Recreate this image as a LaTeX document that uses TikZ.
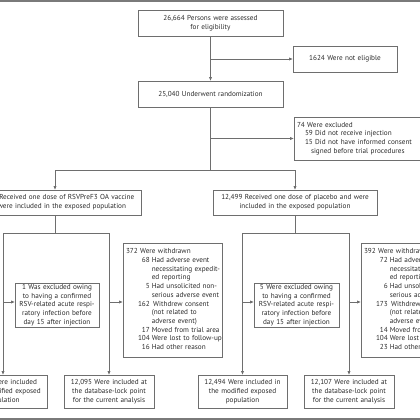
\documentclass[tikz,border=0pt]{standalone}
\usepackage{fontspec}
\setmainfont{PT Sans}
\usetikzlibrary{arrows.meta}
\definecolor{linegray}{HTML}{6E6E6E}
\definecolor{rulegray}{HTML}{7A7A7A}
\definecolor{textcol}{HTML}{2A2A2A}
\newcommand\fnt{\fontsize{7.2}{8.7}\selectfont}
\tikzset{
  box/.style={draw=linegray, line width=0.75pt, inner xsep=2pt, inner ysep=1pt,
    align=center, font=\fnt, text=textcol},
  lbox/.style={box, align=left, inner xsep=3pt},
  conn/.style={draw=linegray, line width=0.75pt},
  arr/.style={conn, -{Triangle[length=3.6pt,width=2.8pt]}},
}
\begin{document}
\begin{tikzpicture}[x=1pt,y=-1pt]
\useasboundingbox (0,0) rectangle (420,420);
\fill[rulegray] (0,0) rectangle (420,1.8);
\fill[rulegray] (0,417.8) rectangle (420,420);

\node[box, text width=141pt, minimum height=26pt] (top) at (210.5,23)
  {26,664 Persons were assessed\\for eligibility};
\node[box, text width=100pt, minimum height=26pt] (notel) at (345,59)
  {1624 Were not eligible};
\node[box, text width=141pt, minimum height=26pt] (rand) at (210.5,94)
  {25,040 Underwent randomization};
\node[lbox, text width=125pt, minimum height=43pt] (excl) at (359.5,138.5)
  {\begin{tabular}{@{}l@{}}74 Were excluded\\[-0.5pt]
   \hspace{8pt}59 Did not receive injection\\
   \hspace{8pt}15 Did not have informed consent\\
   \hspace{14pt}signed before trial procedures\end{tabular}};

\node[box, text width=168pt, minimum height=25pt] (vac) at (55,202.5)
  {12,467 Received one dose of RSVPreF3 OA vaccine\\and were included in the exposed population};
\node[box, text width=160pt, minimum height=25pt] (plac) at (295,202.5)
  {12,499 Received one dose of placebo and were\\included in the exposed population};

\node[box, text width=80pt, minimum height=44pt] (ex1) at (57,305)
  {1 Was excluded owing\\to having a confirmed\\RSV-related acute respi-\\ratory infection before\\day 15 after injection};
\node[box, text width=81pt, minimum height=44pt] (ex2) at (296.5,305)
  {5 Were excluded owing\\to having a confirmed\\RSV-related acute respi-\\ratory infection before\\day 15 after injection};

\node[lbox, text width=93pt, minimum height=114pt] (wd1) at (172.5,300)
  {\begin{tabular}{@{\hspace{12pt}}r@{\hspace{0.28em}}l@{}}
   \multicolumn{2}{@{}l@{}}{372 Were withdrawn}\\
   68 & Had adverse event\\
      & necessitating expedit-\\
      & ed reporting\\
   5 & Had unsolicited non-\\
     & serious adverse event\\
   162 & \hspace{0.2em}Withdrew consent\\
       & (not related to\\
       & adverse event)\\
   17 & Moved from trial area\\
   104 & Were lost to follow-up\\
   16 & Had other reason
   \end{tabular}};
\node[lbox, text width=93pt, minimum height=114pt] (wd2) at (410.5,300)
  {\begin{tabular}{@{\hspace{12pt}}r@{\hspace{0.28em}}l@{}}
   \multicolumn{2}{@{}l@{}}{392 Were withdrawn}\\
   72 & Had adverse event\\
      & necessitating expedit-\\
      & ed reporting\\
   6 & Had unsolicited non-\\
     & serious adverse event\\
   173 & \hspace{0.2em}Withdrew consent\\
       & (not related to\\
       & adverse event)\\
   14 & Moved from trial area\\
   104 & Were lost to follow-up\\
   23 & Had other reason
   \end{tabular}};

\node[box, text width=84pt, minimum height=33pt] (mod1) at (3,391.5)
  {12,466 Were included\\in the modified exposed\\population};
\node[box, text width=86pt, minimum height=33pt] (db1) at (109,391.5)
  {12,095 Were included at\\the database-lock point\\for the current analysis};
\node[box, text width=85pt, minimum height=33pt] (mod2) at (242.5,391.5)
  {12,494 Were included in\\the modified exposed\\population};
\node[box, text width=86pt, minimum height=33pt] (db2) at (349,391.5)
  {12,107 Were included at\\the database-lock point\\for the current analysis};

% top connectors
\draw[arr] (top.south) -- (rand.north);
\coordinate (b1) at (210.5,59);
\draw[arr] (b1) -- (b1 -| notel.west);
\coordinate (sp) at (210.5,170);
\draw[conn] (rand.south) -- (sp);
\coordinate (b2) at (210.5,138.5);
\draw[arr] (b2) -- (b2 -| excl.west);
\coordinate (spL) at (55,170);
\coordinate (spR) at (295,170);
\draw[conn] (spL) -- (spR);
\draw[arr] (spL) -- (vac.north);
\draw[arr] (spR) -- (plac.north);

% vaccine frame
\coordinate (f1L) at (3,233);
\coordinate (f1R) at (109,233);
\draw[conn] (vac.south) -- (vac.south |- f1L);
\draw[conn] (f1L) -- (f1R);
\draw[arr] (f1L) -- (mod1.north);
\draw[arr] (f1R) -- (db1.north);
\coordinate (s1) at (3,302);
\coordinate (s2) at (109,302);
\draw[arr] (s1) -- (s1 -| ex1.west);
\draw[arr] (s2) -- (s2 -| wd1.west);

% placebo frame
\coordinate (f2L) at (242.5,233);
\coordinate (f2R) at (349,233);
\draw[conn] (plac.south) -- (plac.south |- f2L);
\draw[conn] (f2L) -- (f2R);
\draw[arr] (f2L) -- (mod2.north);
\draw[arr] (f2R) -- (db2.north);
\coordinate (s3) at (242.5,302);
\coordinate (s4) at (349,302);
\draw[arr] (s3) -- (s3 -| ex2.west);
\draw[arr] (s4) -- (s4 -| wd2.west);
\end{tikzpicture}
\end{document}
